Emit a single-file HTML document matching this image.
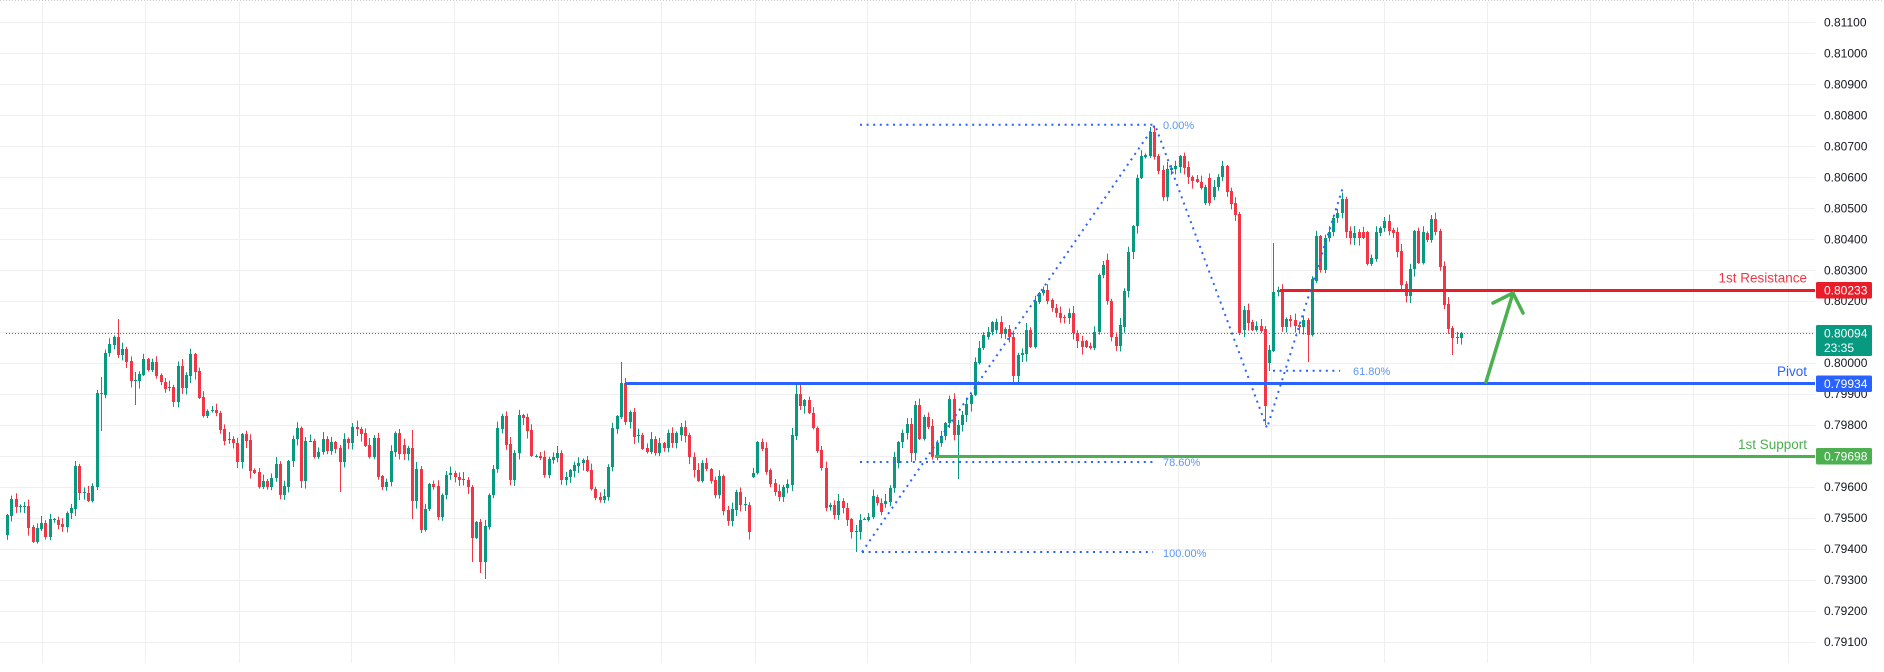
<!DOCTYPE html>
<html><head><meta charset="utf-8"><style>
html,body{margin:0;padding:0;background:#fff;width:1884px;height:672px;overflow:hidden}
svg{display:block;font-family:"Liberation Sans",sans-serif}
</style></head><body>
<svg id="s" width="1884" height="672" viewBox="0 0 1884 672" xmlns="http://www.w3.org/2000/svg">
<rect width="1884" height="672" fill="#fff"/>
<line x1="0" y1="0.5" x2="1884" y2="0.5" stroke="#c9cbd1" stroke-dasharray="1 2"/>
<g stroke="#efefef" stroke-width="1">
<line x1="0" x2="1815" y1="22.5" y2="22.5"/><line x1="0" x2="1815" y1="53.5" y2="53.5"/><line x1="0" x2="1815" y1="84.5" y2="84.5"/><line x1="0" x2="1815" y1="115.5" y2="115.5"/><line x1="0" x2="1815" y1="146.5" y2="146.5"/><line x1="0" x2="1815" y1="177.5" y2="177.5"/><line x1="0" x2="1815" y1="208.5" y2="208.5"/><line x1="0" x2="1815" y1="239.5" y2="239.5"/><line x1="0" x2="1815" y1="270.5" y2="270.5"/><line x1="0" x2="1815" y1="301.5" y2="301.5"/><line x1="0" x2="1815" y1="332.5" y2="332.5"/><line x1="0" x2="1815" y1="363.5" y2="363.5"/><line x1="0" x2="1815" y1="394.5" y2="394.5"/><line x1="0" x2="1815" y1="425.5" y2="425.5"/><line x1="0" x2="1815" y1="456.5" y2="456.5"/><line x1="0" x2="1815" y1="487.5" y2="487.5"/><line x1="0" x2="1815" y1="518.5" y2="518.5"/><line x1="0" x2="1815" y1="549.5" y2="549.5"/><line x1="0" x2="1815" y1="580.5" y2="580.5"/><line x1="0" x2="1815" y1="611.5" y2="611.5"/><line x1="0" x2="1815" y1="642.5" y2="642.5"/>
<line x1="42.5" x2="42.5" y1="2" y2="663"/><line x1="145.5" x2="145.5" y1="2" y2="663"/><line x1="239.5" x2="239.5" y1="2" y2="663"/><line x1="351.5" x2="351.5" y1="2" y2="663"/><line x1="454.5" x2="454.5" y1="2" y2="663"/><line x1="558.5" x2="558.5" y1="2" y2="663"/><line x1="661.5" x2="661.5" y1="2" y2="663"/><line x1="755.5" x2="755.5" y1="2" y2="663"/><line x1="867.5" x2="867.5" y1="2" y2="663"/><line x1="970.5" x2="970.5" y1="2" y2="663"/><line x1="1075.5" x2="1075.5" y1="2" y2="663"/><line x1="1178.5" x2="1178.5" y1="2" y2="663"/><line x1="1271.5" x2="1271.5" y1="2" y2="663"/><line x1="1384.5" x2="1384.5" y1="2" y2="663"/><line x1="1487.5" x2="1487.5" y1="2" y2="663"/><line x1="1590.5" x2="1590.5" y1="2" y2="663"/><line x1="1693.5" x2="1693.5" y1="2" y2="663"/><line x1="1788.5" x2="1788.5" y1="2" y2="663"/>
</g>
<g fill="#131722" font-size="12">
<text x="1824" y="26.5">0.81100</text><text x="1824" y="57.5">0.81000</text><text x="1824" y="88.4">0.80900</text><text x="1824" y="119.4">0.80800</text><text x="1824" y="150.4">0.80700</text><text x="1824" y="181.4">0.80600</text><text x="1824" y="212.3">0.80500</text><text x="1824" y="243.3">0.80400</text><text x="1824" y="274.3">0.80300</text><text x="1824" y="305.2">0.80200</text><text x="1824" y="336.2">0.80100</text><text x="1824" y="367.2">0.80000</text><text x="1824" y="398.1">0.79900</text><text x="1824" y="429.1">0.79800</text><text x="1824" y="460.1">0.79700</text><text x="1824" y="491.1">0.79600</text><text x="1824" y="522">0.79500</text><text x="1824" y="553">0.79400</text><text x="1824" y="584">0.79300</text><text x="1824" y="614.9">0.79200</text><text x="1824" y="645.9">0.79100</text>
</g>
<g id="cd"></g>
<line x1="6" y1="333.5" x2="1815" y2="333.5" stroke="#089981" stroke-width="1" stroke-dasharray="1 2"/>
<line x1="1280" y1="290.5" x2="1815" y2="290.5" stroke="#e91c2a" stroke-width="3"/>
<line x1="625" y1="383.5" x2="1815" y2="383.5" stroke="#2962ff" stroke-width="3"/>
<line x1="935" y1="456.5" x2="1815" y2="456.5" stroke="#4caf50" stroke-width="3"/>
<g stroke="#2962ff" stroke-width="2" stroke-dasharray="2 4.6" fill="none">
<line x1="860" y1="124.7" x2="1153" y2="124.7"/>
<line x1="860" y1="462" x2="1153" y2="462"/>
<line x1="862" y1="552" x2="1153" y2="552"/>
<line x1="1273" y1="370.7" x2="1340" y2="370.7"/>
<polyline points="862,552 1155,125 1267,428 1343,187"/>
</g>
<g fill="#5d95f5" font-size="11">
<text x="1163" y="129">0.00%</text>
<text x="1163" y="466">78.60%</text>
<text x="1163" y="557">100.00%</text>
<text x="1353" y="375">61.80%</text>
</g>
<g stroke="#4caf50" stroke-width="3.5" fill="none" stroke-linecap="round" stroke-linejoin="round">
<line x1="1486" y1="382" x2="1513" y2="293"/>
<polyline points="1493,303 1513,293 1523,313"/>
</g>
<g font-size="13.5" text-anchor="end">
<text x="1807" y="282.7" fill="#f23645">1st Resistance</text>
<text x="1807" y="376" fill="#2962ff">Pivot</text>
<text x="1807" y="449" fill="#4caf50">1st Support</text>
</g>
<rect x="1816" y="282" width="56" height="16.5" rx="1.5" fill="#e91c2a"/>
<rect x="1816" y="325" width="56" height="31" rx="1.5" fill="#089981"/>
<rect x="1816" y="375.5" width="56" height="16.5" rx="1.5" fill="#2962ff"/>
<rect x="1816" y="448" width="56" height="16.5" rx="1.5" fill="#4caf50"/>
<g fill="#fff" font-size="12">
<text x="1824" y="294.7">0.80233</text>
<text x="1824" y="337.5">0.80094</text>
<text x="1824" y="352">23:35</text>
<text x="1824" y="387.8">0.79934</text>
<text x="1824" y="460.7">0.79698</text>
</g>
</svg>
<script>
(function(){
var D=[[535,515],[516,499],[499,507],[506,506],[506,506],[506,528],[527,542],[542,528],[529,523],[523,537],
[537,519],[519,519],[520,525],[524,527],[527,513],[513,508],[509,466],[466,493],[492,492],[493,501],
[501,486],[487,393],[393,394],[395,353],[353,344],[345,337],[337,355],[355,349],[349,362],[361,381],
[380,380],[381,374],[375,359],[359,370],[370,362],[362,376],[375,382],[382,389],[387,387],[387,402],
[402,366],[366,388],[388,375],[376,354],[354,372],[371,398],[397,416],[416,411],[410,410],[410,413],
[413,430],[429,441],[439,439],[439,443],[443,462],[462,434],[434,441],[440,471],[470,473],[472,487],
[487,481],[481,487],[487,478],[478,464],[464,495],[495,486],[487,461],[461,439],[439,428],[428,481],
[481,441],[441,441],[441,457],
[457,452],[452,439],[439,451],[451,442],[442,449],[448,462],[462,439],[439,443],[443,427],[427,429],
[429,434],[433,446],[445,457],[457,438],[438,477],[476,487],[487,482],[482,451],[452,433],[433,454],
[445,454],[454,448],[448,501],[501,469],[469,530],[530,509],[509,484],[484,487],[486,517],[517,495],
[495,475],[475,473],[473,477],[477,480],[479,479],[480,487],[487,538],[538,522],[522,562],[562,526],
[527,495],[495,469],[469,428],[429,416],[416,445],[444,480],[480,453],[453,415],[415,418],[417,431],
[430,456],[456,456],[456,458],[457,475],[475,459],[460,457],[458,453],[453,480],[480,477],[477,470],
[471,465],[466,463],[463,460],[460,471],[470,489],[489,498],[497,500],[500,496],[497,467],[467,428],
[429,416],[417,383],
[383,422],[422,412],[412,437],[435,435],[435,449],[448,452],[452,439],[439,453],[453,443],[443,448],
[448,433],[433,443],[443,433],[435,427],[427,436],[435,457],[457,470],
[470,481],[481,463],[463,469],[469,481],[480,495],[495,476],[476,511],[510,521],[521,509],[510,492],
[492,505],[504,504],[505,532],[477,473],[473,442],[442,449],[448,472],[470,484],[483,492],[491,497],
[497,487],[488,484],[485,435],[436,394],[394,406],[406,400],[400,413],[413,428],[428,451],[450,468],
[468,508],[507,505],[505,515],[515,501],[501,508],[508,520],[519,532],[531,531],[532,520],[519,519],
[520,517],[517,496],
[497,503],[503,512],[504,501],[502,488],[488,457],[463,442],[442,433],[433,424],[424,453],[453,405],
[405,439],[439,417],[417,427],[426,457],[457,443],[443,436],[436,423],[423,399],[399,435],[435,425],
[425,415],[415,404],[404,395],[395,362],[363,348],[348,335],[337,332],[332,322],[330,322],[322,334],
[334,329],[329,337],[337,376],[376,355],[355,353],[354,330],[330,347],[347,301],[302,293],[293,290],
[290,301],[300,308],[308,313],[313,318],[317,318],[318,313],[313,333],[333,341],[341,347],[341,347],
[346,348],[348,332],[332,275],[275,265],[260,301],[301,337],[337,346],[346,325],[327,291],[291,252],
[252,226],[226,178],[178,156],[157,155],[156,132],[132,157],[156,171],[170,197],[197,169],[170,168],
[169,166],[167,156],[156,168],[167,177],[177,181],[179,182],[182,188],[203,187],[178,203],[197,187],
[187,177],[177,166],[166,192],[191,204],[203,215],[214,333],
[330,310],[310,323],[322,330],[330,326],[326,331],[329,406],[363,350],[351,292],[292,290],[290,327],
[327,319],[319,321],[320,326],[325,327],[327,320],[320,335],[335,279],[281,236],[236,270],[270,238],
[238,232],[232,218],[218,213],[213,199],[199,232],[231,238],[238,233],[232,238],[232,238],[232,264],
[264,258],[259,232],[233,228],[228,221],[221,231],[230,233],[232,252],[251,285],[284,296],[296,269],
[269,231],[231,263],[263,232],[233,240],[240,219],[219,232],[231,267],[266,305],[304,329],[328,338],
[338,337],[338,333]];
var W={16:[461,516],21:[390,490],22:[377,431],26:[319,358],30:[372,405],78:[445,492],95:[430,519],97:[466,533],
109:[485,562],111:[519,573],112:[520,579],144:[362,419],145:[378,425],185:[383,440],186:[383,410],199:[525,552],
212:[418,462],223:[420,479],268:[127,158],289:[212,335],295:[326,425],296:[345,371],297:[243,352],305:[318,362],339:[326,355]};
var NS="http://www.w3.org/2000/svg";
var g=document.getElementById('cd');
function r(x,y,w,h,c){var e=document.createElementNS(NS,'rect');e.setAttribute('x',x);e.setAttribute('y',y);e.setAttribute('width',w);e.setAttribute('height',h);e.setAttribute('fill',c);g.appendChild(e);}
for(var i=0;i<D.length;i++){
var x=Math.round(7+i*4.264);
var o=D[i][0],c=D[i][1];
var col=(c<=o)?'#089981':'#f23645';
var t=Math.min(o,c),b=Math.max(o,c);
var h=t-1-((i*37)%11)*0.6,l=b+1+((i*53+7)%13)*0.55;
if(W[i]){h=W[i][0];l=W[i][1];}
r(x,h,1,l-h,col);
r(x-1,t,3,Math.max(1,b-t),col);
}
})();
</script>
</body></html>
